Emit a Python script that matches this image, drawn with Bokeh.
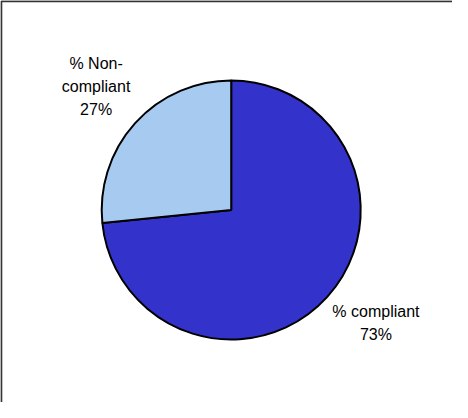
import math
from bokeh.plotting import figure
from bokeh.models import Range1d, ColumnDataSource
from bokeh.core.properties import value
from bokeh.embed import file_html
from bokeh.resources import INLINE

# ---- data ----
categories = ["% compliant", "% Non-compliant"]
values = [73.4, 26.6]
label_lines = ["% compliant\n73%", "% Non-\ncompliant\n27%"]
colors = ["#3333CC", "#A6CAF0"]

# ---- layout ----
W, H = 452, 402
cx, cy = 230.7, 192.5          # pie centre (data units == pixels)
R = 129.5
font_px = 16
line_h = 21.5
label_gap = 136.5               # distance from centre to label box corner
box_w = [87.0, 67.7]            # approximate label box sizes
box_h = [2 * line_h, 3 * line_h]

p = figure(width=W, height=H, output_backend="svg", toolbar_location=None,
           x_range=Range1d(0, W), y_range=Range1d(0, H), min_border=0)
p.axis.visible = False
p.grid.visible = False
p.outline_line_color = None
p.background_fill_color = "white"
p.border_fill_color = "white"

# wedges: compliant starts at 12 o'clock going clockwise
total = sum(values)
starts, ends, mids = [], [], []
a = math.pi / 2
for v in values:
    sweep = 2 * math.pi * v / total
    starts.append(a - sweep)
    ends.append(a)
    mids.append(a - sweep / 2)
    a -= sweep

src = ColumnDataSource(dict(x=[cx] * len(values), y=[cy] * len(values),
                            start=starts, end=ends, color=colors, cat=categories))
p.wedge(x="x", y="y", radius=R, start_angle="start", end_angle="end",
        fill_color="color", line_color="black", line_width=2, source=src)

# labels
lx, ly = [], []
for m, bw, bh in zip(mids, box_w, box_h):
    c, s = math.cos(m), math.sin(m)
    ax = cx + label_gap * c
    ay = cy + label_gap * s
    lx.append(ax + math.copysign(bw / 2, c))
    ly.append(ay + math.copysign(bh / 2, s))
p.text(x=lx, y=ly, text=label_lines, text_align="center", text_baseline="middle",
       text_font=value("Liberation Sans"), text_font_size=f"{font_px}px",
       text_color="black", text_line_height=line_h / font_px)

# chart area border (only top and left visible in the window)
p.line(x=[0.8, 0.8, W], y=[0, H - 0.8, H - 0.8], line_color="#333333", line_width=2)

open("out.html", "w").write(file_html(p, INLINE))
